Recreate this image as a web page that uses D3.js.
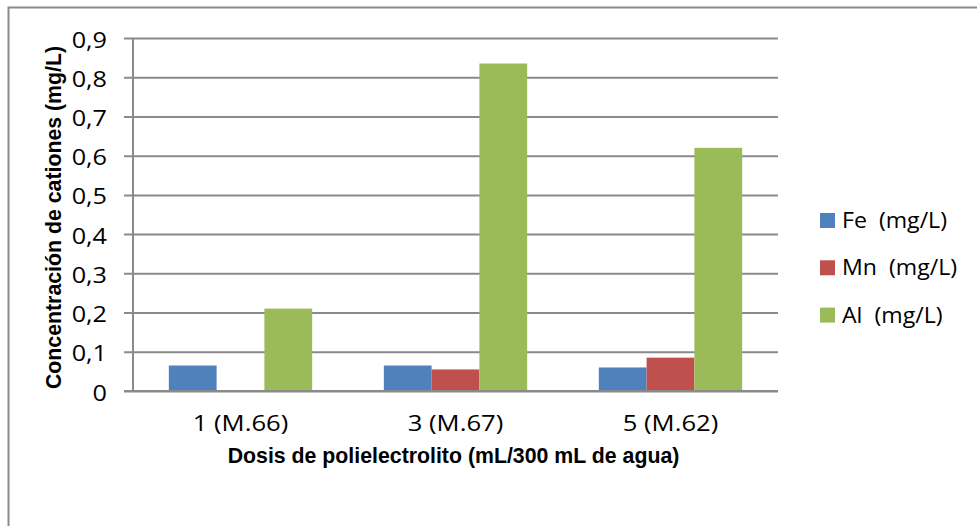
<!DOCTYPE html>
<html>
<head>
<meta charset="utf-8">
<script src="https://cdn.jsdelivr.net/npm/d3@7"></script>
<style>
  html, body { margin: 0; padding: 0; background: #fff; }
  svg { display: block; }
  .lbl { font-family: "Open Sans", "Noto Sans", sans-serif; font-size: 21px; fill: #000; white-space: pre; }
  .ttl { font-family: "Liberation Sans", Arial, sans-serif; font-weight: bold; font-size: 21.3px; fill: #000; }
</style>
</head>
<body>
<svg id="chart" width="977" height="526"></svg>
<script>
// Dose groups (mL of polyelectrolyte per 300 mL water, sample id)
const categories = ["1 (M.66)", "3 (M.67)", "5 (M.62)"];
// Cation concentrations in mg/L per dose group
const feValues = [0.065, 0.065, 0.06];
const mnValues = [0, 0.055, 0.085];
const alValues = [0.21, 0.835, 0.62];
const seriesNames = ["Fe  (mg/L)", "Mn  (mg/L)", "Al  (mg/L)"];
const seriesColors = ["#4F81BD", "#C0504D", "#9BBB59"];
const yTicks = [0, 0.1, 0.2, 0.3, 0.4, 0.5, 0.6, 0.7, 0.8, 0.9];

const series = [feValues, mnValues, alValues].map((vals, i) => ({
  name: seriesNames[i], color: seriesColors[i], values: vals
}));

// widen the label glyphs horizontally (wide-set text face)
function widen(sel, factor) {
  sel.each(function () {
    const len = this.getComputedTextLength();
    d3.select(this).attr("textLength", len * factor).attr("lengthAdjust", "spacingAndGlyphs");
  });
}

const svg = d3.select("#chart");
const plot = { left: 133, right: 778, top: 38, bottom: 391 };

// chart area frame (continues past the page edge on the right and bottom)
svg.append("rect")
  .attr("x", 8.5).attr("y", 7.5)
  .attr("width", 1200).attr("height", 800)
  .attr("fill", "none").attr("stroke", "#8a8a8a").attr("stroke-width", 2);

const y = d3.scaleLinear().domain([0, 0.9]).range([plot.bottom, plot.top]);
const x0 = d3.scaleBand().domain(categories).range([plot.left, plot.right]).padding(0);
const x1 = d3.scaleBand().domain(seriesNames).range([0, x0.bandwidth()])
  .paddingInner(0).paddingOuter(0.75);

// horizontal gridlines with their tick marks
const yAxis = d3.axisLeft(y).tickValues(yTicks)
  .tickSize(plot.right - plot.left + 9)
  .tickFormat(d => d3.format(".1f")(d).replace(".", ",").replace(/^0,0$/, "0"));

const gy = svg.append("g")
  .attr("transform", `translate(${plot.right},0)`)
  .call(yAxis);
gy.select(".domain").remove();
gy.selectAll(".tick line").attr("stroke", "#8a8a8a").attr("stroke-width", 2);
gy.selectAll(".tick text")
  .attr("class", "lbl")
  .attr("x", -(plot.right - 107))
  .attr("y", 1.5)
  .attr("dy", "0.36em")
  .attr("text-anchor", "end")
  .call(widen, 1.2);

// vertical axis line
svg.append("line")
  .attr("x1", plot.left).attr("x2", plot.left)
  .attr("y1", plot.top).attr("y2", plot.bottom)
  .attr("stroke", "#8a8a8a").attr("stroke-width", 2);

// bars
const groups = svg.append("g").selectAll("g")
  .data(categories)
  .join("g")
  .attr("transform", d => `translate(${x0(d)},0)`);

groups.selectAll("rect")
  .data((d, ci) => series.map(s => ({ name: s.name, color: s.color, value: s.values[ci] })))
  .join("rect")
  .attr("x", d => x1(d.name))
  .attr("width", x1.bandwidth())
  .attr("y", d => y(d.value))
  .attr("height", d => y(0) - y(d.value))
  .attr("fill", d => d.color);

// baseline on top of the bars
svg.append("line")
  .attr("x1", plot.left - 9).attr("x2", plot.right)
  .attr("y1", y(0)).attr("y2", y(0))
  .attr("stroke", "#8a8a8a").attr("stroke-width", 2);

// category labels
const xAxis = d3.axisBottom(x0).tickSize(0).tickPadding(0);
const gx = svg.append("g").attr("transform", `translate(0,${plot.bottom})`).call(xAxis);
gx.select(".domain").remove();
gx.selectAll(".tick text")
  .attr("class", "lbl")
  .attr("y", 40)
  .attr("dy", 0)
  .attr("text-anchor", "middle")
  .call(widen, 1.22);

// axis titles
svg.append("text")
  .attr("class", "ttl")
  .attr("x", (plot.left + plot.right) / 2 - 2)
  .attr("y", 463)
  .attr("text-anchor", "middle")
  .text("Dosis de polielectrolito (mL/300 mL de agua)");

svg.append("text")
  .attr("class", "ttl")
  .attr("transform", `translate(61,${(plot.top + plot.bottom) / 2 + 3}) rotate(-90)`)
  .attr("text-anchor", "middle")
  .text("Concentración de cationes (mg/L)");

// legend
const legend = svg.append("g").selectAll("g")
  .data(series)
  .join("g")
  .attr("transform", (d, i) => `translate(820,${220.5 + i * 47.3})`);

legend.append("rect")
  .attr("x", 0).attr("y", -7.5)
  .attr("width", 15).attr("height", 15)
  .attr("fill", d => d.color);

legend.append("text")
  .attr("class", "lbl")
  .attr("x", 22)
  .attr("dy", "0.36em")
  .text(d => d.name)
  .call(widen, 1.1);
</script>
</body>
</html>
